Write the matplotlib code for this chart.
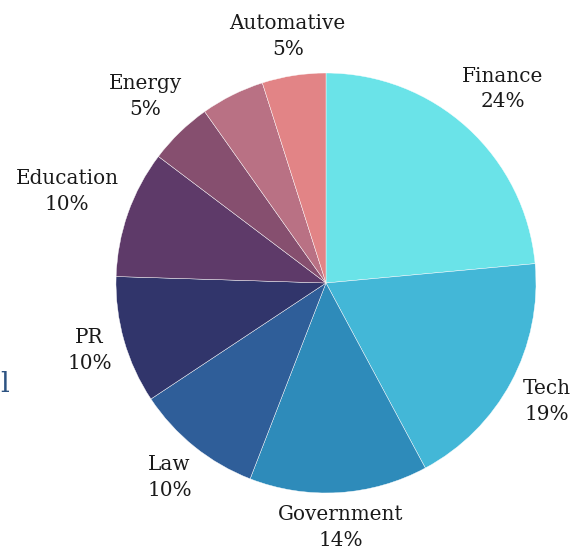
import numpy as np
import matplotlib
matplotlib.use("Agg")
from matplotlib import pyplot as plt

# slices go clockwise from 12 o'clock
categories = ["Finance", "Tech", "Government", "Law", "PR", "Education", "Energy", "", "Automative"]
values = [24, 19, 14, 10, 10, 10, 5, 5, 5]
colors = ["#6ae3e8", "#43b7d7", "#2e8bba", "#2f5e99", "#31356b",
          "#5e3a69", "#864f6f", "#b97184", "#e28486"]

plt.rcParams["font.family"] = ["DejaVu Serif"]

fig = plt.figure(figsize=(5.74, 5.50), dpi=100)
ax = fig.add_axes([0, 0, 1, 1])

wedges, _ = ax.pie(values, colors=colors, startangle=90, counterclock=False,
                   radius=1.0, wedgeprops=dict(edgecolor="white", linewidth=0.3))

ax.set_xlim(-326 / 210, (574 - 326) / 210)
ax.set_ylim(-(550 - 283) / 210, 283 / 210)
ax.set_aspect("equal")
ax.axis("off")

fig.canvas.draw()
renderer = fig.canvas.get_renderer()
px = 210.0  # pixels per data unit

total = sum(values)
for w, name, v in zip(wedges, categories, values):
    if not name:
        continue
    ang = np.deg2rad((w.theta1 + w.theta2) / 2)
    x, y = np.cos(ang), np.sin(ang)
    t = ax.text(0, 0, f"{name}\n{round(100 * v / total)}%", ha="center", va="center",
                multialignment="center", fontsize=14.4, color="#1a1a1a", linespacing=1.45)
    bb = t.get_window_extent(renderer)
    hw, hh = bb.width / 2 / px, bb.height / 2 / px
    # push the label box out so its near side sits just past the rim
    d = 1.04 + hw * abs(x) + hh * abs(y)
    t.set_position((d * x, d * y))

# clipped piece of text at the left edge
fig.text(0.0, 1 - 392 / 550, "l", fontsize=20, color="#2d5382", ha="left", va="baseline")

fig.savefig("out.png", dpi=100)
